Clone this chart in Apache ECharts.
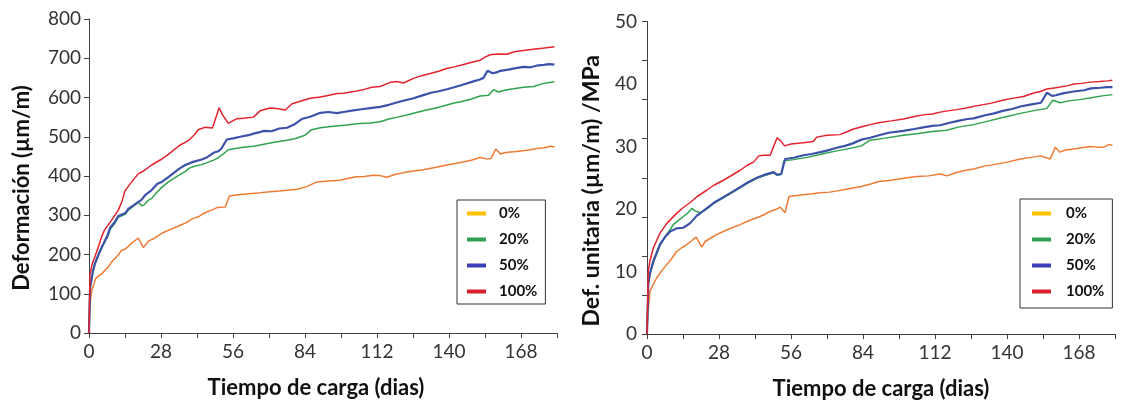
<!DOCTYPE html>
<html>
<head>
<meta charset="utf-8">
<script src="https://cdn.jsdelivr.net/npm/echarts@6/dist/echarts.min.js"></script>
<style>
  html, body { margin: 0; padding: 0; background: #fff; }
  #chart { width: 1121px; height: 405px; }
</style>
</head>
<body>
<div id="chart"></div>
<script>
// ---------- Data ----------
const seriesNames = ['0%', '20%', '50%', '100%'];
const xTickLabels = [0, 28, 56, 84, 112, 140, 168];

// Left chart: Deformación (µm/m)
const left0Days = [0,0.4,1.1,1.7,2.5,3.6,5.2,6.2,7.3,8.8,11.5,12.7,14.2,16.6,19.2,21.1,23.1,25,28.3,31,34.7,38,40.5,42.5,44.6,47.7,50,53,54.6,58,62,66,70.4,74,77,81,84.7,88.6,93,97.7,101,104,107,110.6,113.2,115.8,119,122,126.2,130,134,139.2,142,145,149,152.1,155,156.4,158.2,160,162,165.1,168,171,174.2,177,179.5,181];
const left0Vals = [0,75,110,120,138,145,152,160,166,181,200,211,214,229,242,218,234,240,254,262,272,282,292,296,305,313,320,321,349,352,355,357,360,362,364,366,373,385,387,389,394,398,399,402,401,397,404,408,413,416,421,428,431,435,441,447,443,445,469,456,460,462,464,466,470,472,476,474];

const left20Days = [0,0.4,1.5,2.3,4,5.2,7.3,8.2,10,11.4,14.2,15.3,17,19.2,20.5,21.5,23,24.4,26.6,28.3,30.9,33,35,37.4,39,41,43.8,46,48.7,50.3,52,54.2,57,60,64,68,72,77,80,84,86.6,90,95,100.3,104,109.3,113.2,117,120,124,126.2,130,134,139.2,142,145,149,152.1,155.4,157.3,159.2,162,165.1,169,172.9,176.8,179,181];
const left20Vals = [0,112,155,175,203,220,246,264,279,295,303,313,322,333,324,327,338,343,360,371,385,394,402,411,420,425,429,434,441,447,455,467,470,473,476,481,486,491,495,504,518,523,527,530,533,535,538,546,550,556,560,566,572,581,586,590,597,604,606,620,614,619,622,626,628,636,638,640];

const left50Days = [0,0.4,1.5,2.3,4,5.2,7.3,8.2,10,11.4,14.2,15.3,17,19.2,20.5,21.8,24,26.6,28.3,31,35,37.4,40.5,43.8,46,48.7,50.3,51.5,53.6,56,58.8,62,64,66,68,71,74,77,80,83,86,90,93,96.4,99,102.8,106,109.3,113.2,117,120,123,126.2,130,133,136,139.2,142,145,149.5,152,153.4,155,157,158.5,160,163,166,169,171.6,174,176.8,179,181];
const left50Vals = [0,115,157,177,205,222,250,268,282,298,306,316,324,334,340,351,362,380,385,398,418,428,436,442,448,460,463,470,493,496,500,504,508,511,515,514,521,523,532,546,551,561,563,560,563,567,570,573,576,582,588,593,598,606,612,616,621,626,632,641,646,650,668,662,664,668,671,675,678,677,681,683,685,684];

const left100Days = [0,0.4,1.2,2.3,3.9,4.9,6,8.2,11.4,12.8,14,16,19.2,21,24.4,28,30.9,35,38.6,41,42.5,45,48,50.6,52,54.2,57.5,60,64,66.5,70.4,73,76.3,79,83.4,86,89.9,93,96.4,99,102.8,106.7,110,113.2,117,119.7,122.3,126,129,132.7,136,139,142,145.6,149,152.1,154,156,159,162.5,165.1,168,172.9,177,181];
const left100Vals = [0,150,175,194,225,245,262,282,313,335,362,380,406,412,428,442,455,477,490,505,518,524,522,574,555,534,546,547,550,566,573,572,568,584,593,598,601,605,610,611,615,620,626,628,638,641,637,648,655,661,667,674,678,684,690,695,703,709,711,710,716,719,723,726,729];

// Right chart: Def. unitaria (µm/m)/MPa
const right0Days = [0,0.3,1.2,2.5,3.8,5.5,7.7,9.5,11.5,13.5,15.4,17,19.1,21.3,22.6,25,27,29.7,33,36.2,40,44,47.9,50.5,51.8,53.7,55.2,59,63.4,67.3,71,74,78,83.4,87,90.2,95,101,105,109.5,114,116.6,120,124,127,131.5,135,140,145.2,150,153,156.8,158.8,160.5,162.5,165.8,169,172.4,175,177.6,179.5,181];
const right0Vals = [0,3.2,6.9,8.0,9.0,10.0,11.1,12.0,13.2,13.8,14.3,14.8,15.5,13.9,14.8,15.4,15.9,16.4,17.0,17.5,18.2,18.8,19.6,20.0,20.3,19.4,22.0,22.2,22.4,22.6,22.7,22.9,23.2,23.6,24.0,24.4,24.6,25.0,25.2,25.3,25.6,25.3,25.8,26.2,26.4,26.9,27.1,27.5,28.0,28.3,28.5,28.0,29.9,29.1,29.4,29.6,29.8,30.0,29.9,29.9,30.3,30.2];

const right20Days = [0,0.5,1.2,2.5,5,7,9,10.2,12,14.1,16,17.4,18.7,20.6,23.2,26,29.7,33,36.2,39,42.7,46,49.2,50.5,52.2,53.2,57,62.8,68,73.8,79,83.4,85.5,86.8,92,99.7,104,111,116.6,121,127,133,140,145.2,150,155.5,157.8,160.7,164,168.3,172.7,177,181];
const right20Vals = [0,7.8,9.6,11.5,14.1,15.6,16.7,17.5,18.1,18.8,19.4,20.1,19.7,19.4,20.0,20.9,21.8,22.6,23.4,24.1,24.9,25.4,25.8,25.4,25.5,27.7,27.9,28.3,28.8,29.3,29.7,30.1,30.7,31.0,31.3,31.8,32.0,32.4,32.6,33.1,33.5,34.1,34.8,35.3,35.7,36.1,37.4,37.0,37.3,37.5,37.8,38.1,38.3];

const right50Days = [0,0.5,1.2,2.5,5,7,9,11.5,14.1,16.7,19.3,21,23.2,26,29.7,33,36.2,39,42.7,46,49.2,50.5,52.2,53.7,57,60.8,64,69.6,73.8,77,80,83.4,86.8,90.2,94,99.7,104,108,111,114,117.7,121,124.6,127,131.5,135,138.3,142,145.2,149,153.2,155.5,157.5,159,161.7,165.9,170,172.7,176.3,179,181];
const right50Vals = [0,8.0,9.8,11.7,14.3,15.5,16.4,16.9,17.0,17.7,18.9,19.4,20.1,21.0,21.9,22.7,23.5,24.2,25.0,25.5,25.9,25.5,25.6,28.0,28.2,28.6,28.8,29.3,29.8,30.1,30.5,31.1,31.4,31.8,32.2,32.5,32.8,33.1,33.3,33.4,33.8,34.1,34.4,34.5,35.0,35.3,35.7,36.0,36.4,36.7,37.0,38.6,38.1,38.2,38.5,38.8,39.0,39.3,39.4,39.5,39.5];

const right100Days = [0,0.5,1.2,2.5,5,7.7,11.5,14,16.7,19.5,23.2,26,29.7,33,36.2,39,41.4,43.5,45.3,47.9,50.6,52,53.5,56,60.8,64.7,66,70,75,78,80.3,84,86.8,90,95,99.7,104,108,111,114,117,120.5,124.6,128,133.5,138.3,142,146.4,150.7,153,155.5,159,163.3,166,169,172.4,176,179,181];
const right100Vals = [0,10.1,11.8,13.8,16.1,17.7,19.3,20.2,21.0,22.0,23.0,23.8,24.6,25.4,26.2,27.0,27.5,28.5,28.6,28.6,31.4,30.9,30.1,30.4,30.6,30.8,31.5,31.8,31.9,32.4,32.8,33.2,33.5,33.8,34.1,34.4,34.8,35.1,35.2,35.5,35.7,35.9,36.2,36.5,36.9,37.4,37.7,38.0,38.6,38.8,39.2,39.4,39.7,40.0,40.1,40.3,40.4,40.5,40.6];

const lineColors = ['#EF7B35', '#2FA24E', '#3B52A8', '#E3222C'];
const legendColors = ['#FFC000', '#2FA052', '#3A3FB5', '#D9202A'];

// ---------- Build ----------
function zip(d, v) { return d.map((x, i) => [x, v[i]]); }
const leftData = [zip(left0Days, left0Vals), zip(left20Days, left20Vals), zip(left50Days, left50Vals), zip(left100Days, left100Vals)];
const rightData = [zip(right0Days, right0Vals), zip(right20Days, right20Vals), zip(right50Days, right50Vals), zip(right100Days, right100Vals)];

const FONT = 'Lato';
const axisColor = '#404040';
const labelColor = '#333';

function xAxisFor(gridIndex, padLeft, padRight) {
  return {
    type: 'value', gridIndex, min: 0, max: 182, interval: 14,
    name: 'Tiempo de carga (dias)', nameLocation: 'middle', nameGap: 44,
    nameTextStyle: { fontFamily: FONT, fontWeight: 'bold', fontSize: 22, color: '#111', padding: [0, padRight, 0, padLeft] },
    axisLine: { show: true, lineStyle: { color: axisColor, width: 1 } },
    axisTick: { show: true, inside: false, length: 5, lineStyle: { color: axisColor } },
    splitLine: { show: false },
    axisLabel: {
      fontFamily: FONT, fontSize: 19, color: labelColor, margin: 9,
      formatter: v => (xTickLabels.indexOf(v) >= 0 ? String(v) : '')
    }
  };
}

function legendFor(left, top, pad, textPad) {
  return {
    orient: 'vertical', left, top,
    icon: 'rect', itemWidth: 19, itemHeight: 4, itemGap: 11,
    padding: pad,
    borderColor: '#333', borderWidth: 1, backgroundColor: '#fff',
    textStyle: { fontFamily: FONT, fontWeight: 'bold', fontSize: 15, color: '#111', padding: [0, 0, 0, textPad] },
    data: seriesNames.map((n, i) => ({ name: n, itemStyle: { color: legendColors[i] } }))
  };
}

const series = [];
seriesNames.forEach((n, i) => {
  series.push({
    name: n, type: 'line', xAxisIndex: 0, yAxisIndex: 0, data: leftData[i],
    showSymbol: false, symbol: 'none', animation: false,
    lineStyle: { color: lineColors[i], width: i === 2 ? 2.2 : 1.5 },
    itemStyle: { color: lineColors[i] }
  });
});
seriesNames.forEach((n, i) => {
  series.push({
    name: n, type: 'line', xAxisIndex: 1, yAxisIndex: 1, data: rightData[i],
    showSymbol: false, symbol: 'none', animation: false,
    lineStyle: { color: lineColors[i], width: i === 2 ? 2.2 : 1.5 },
    itemStyle: { color: lineColors[i] }
  });
});

const option = {
  animation: false,
  backgroundColor: '#fff',
  textStyle: { fontFamily: FONT },
  grid: [
    { left: 89, top: 19, right: 564, bottom: 72 },
    { left: 647, top: 21.5, right: 6, bottom: 68 }
  ],
  xAxis: [xAxisFor(0, 0, 14), xAxisFor(1, 0, 0)],
  yAxis: [
    {
      type: 'value', gridIndex: 0, min: 0, max: 800, interval: 100,
      name: 'Deformación (µm/m)', nameLocation: 'middle', nameGap: 56,
      nameTextStyle: { fontFamily: FONT, fontWeight: 'bold', fontSize: 22, color: '#111', padding: [0, 24, 0, 0] },
      axisLine: { show: true, lineStyle: { color: axisColor } },
      axisTick: { show: true, length: 5, lineStyle: { color: axisColor } },
      splitLine: { show: false },
      axisLabel: { fontFamily: FONT, fontSize: 19, color: labelColor, margin: 8 }
    },
    {
      type: 'value', gridIndex: 1, min: 0, max: 50, interval: 10, position: 'left',
      name: 'Def. unitaria (µm/m) /MPa', nameLocation: 'middle', nameGap: 44,
      nameTextStyle: { fontFamily: FONT, fontWeight: 'bold', fontSize: 23, color: '#111', padding: [0, 26, 0, 0] },
      axisLine: { show: true, lineStyle: { color: axisColor } },
      axisTick: { show: false },
      splitLine: { show: false },
      axisLabel: { fontFamily: FONT, fontSize: 19, color: labelColor, margin: 10 }
    },
    {
      type: 'value', gridIndex: 1, min: 0, max: 50, interval: 6.25, position: 'left', offset: 0,
      axisLine: { show: false },
      axisTick: { show: true, length: 5, lineStyle: { color: axisColor } },
      axisLabel: { show: false },
      splitLine: { show: false }
    }
  ],
  legend: [
    legendFor(457, 200, [6, 8, 5, 10], 8),
    legendFor(1020, 199, [7, 8, 9, 12], 10)
  ],
  series
};

const chart = echarts.init(document.getElementById('chart'), null, { renderer: 'canvas' });
chart.setOption(option);
</script>
</body>
</html>
